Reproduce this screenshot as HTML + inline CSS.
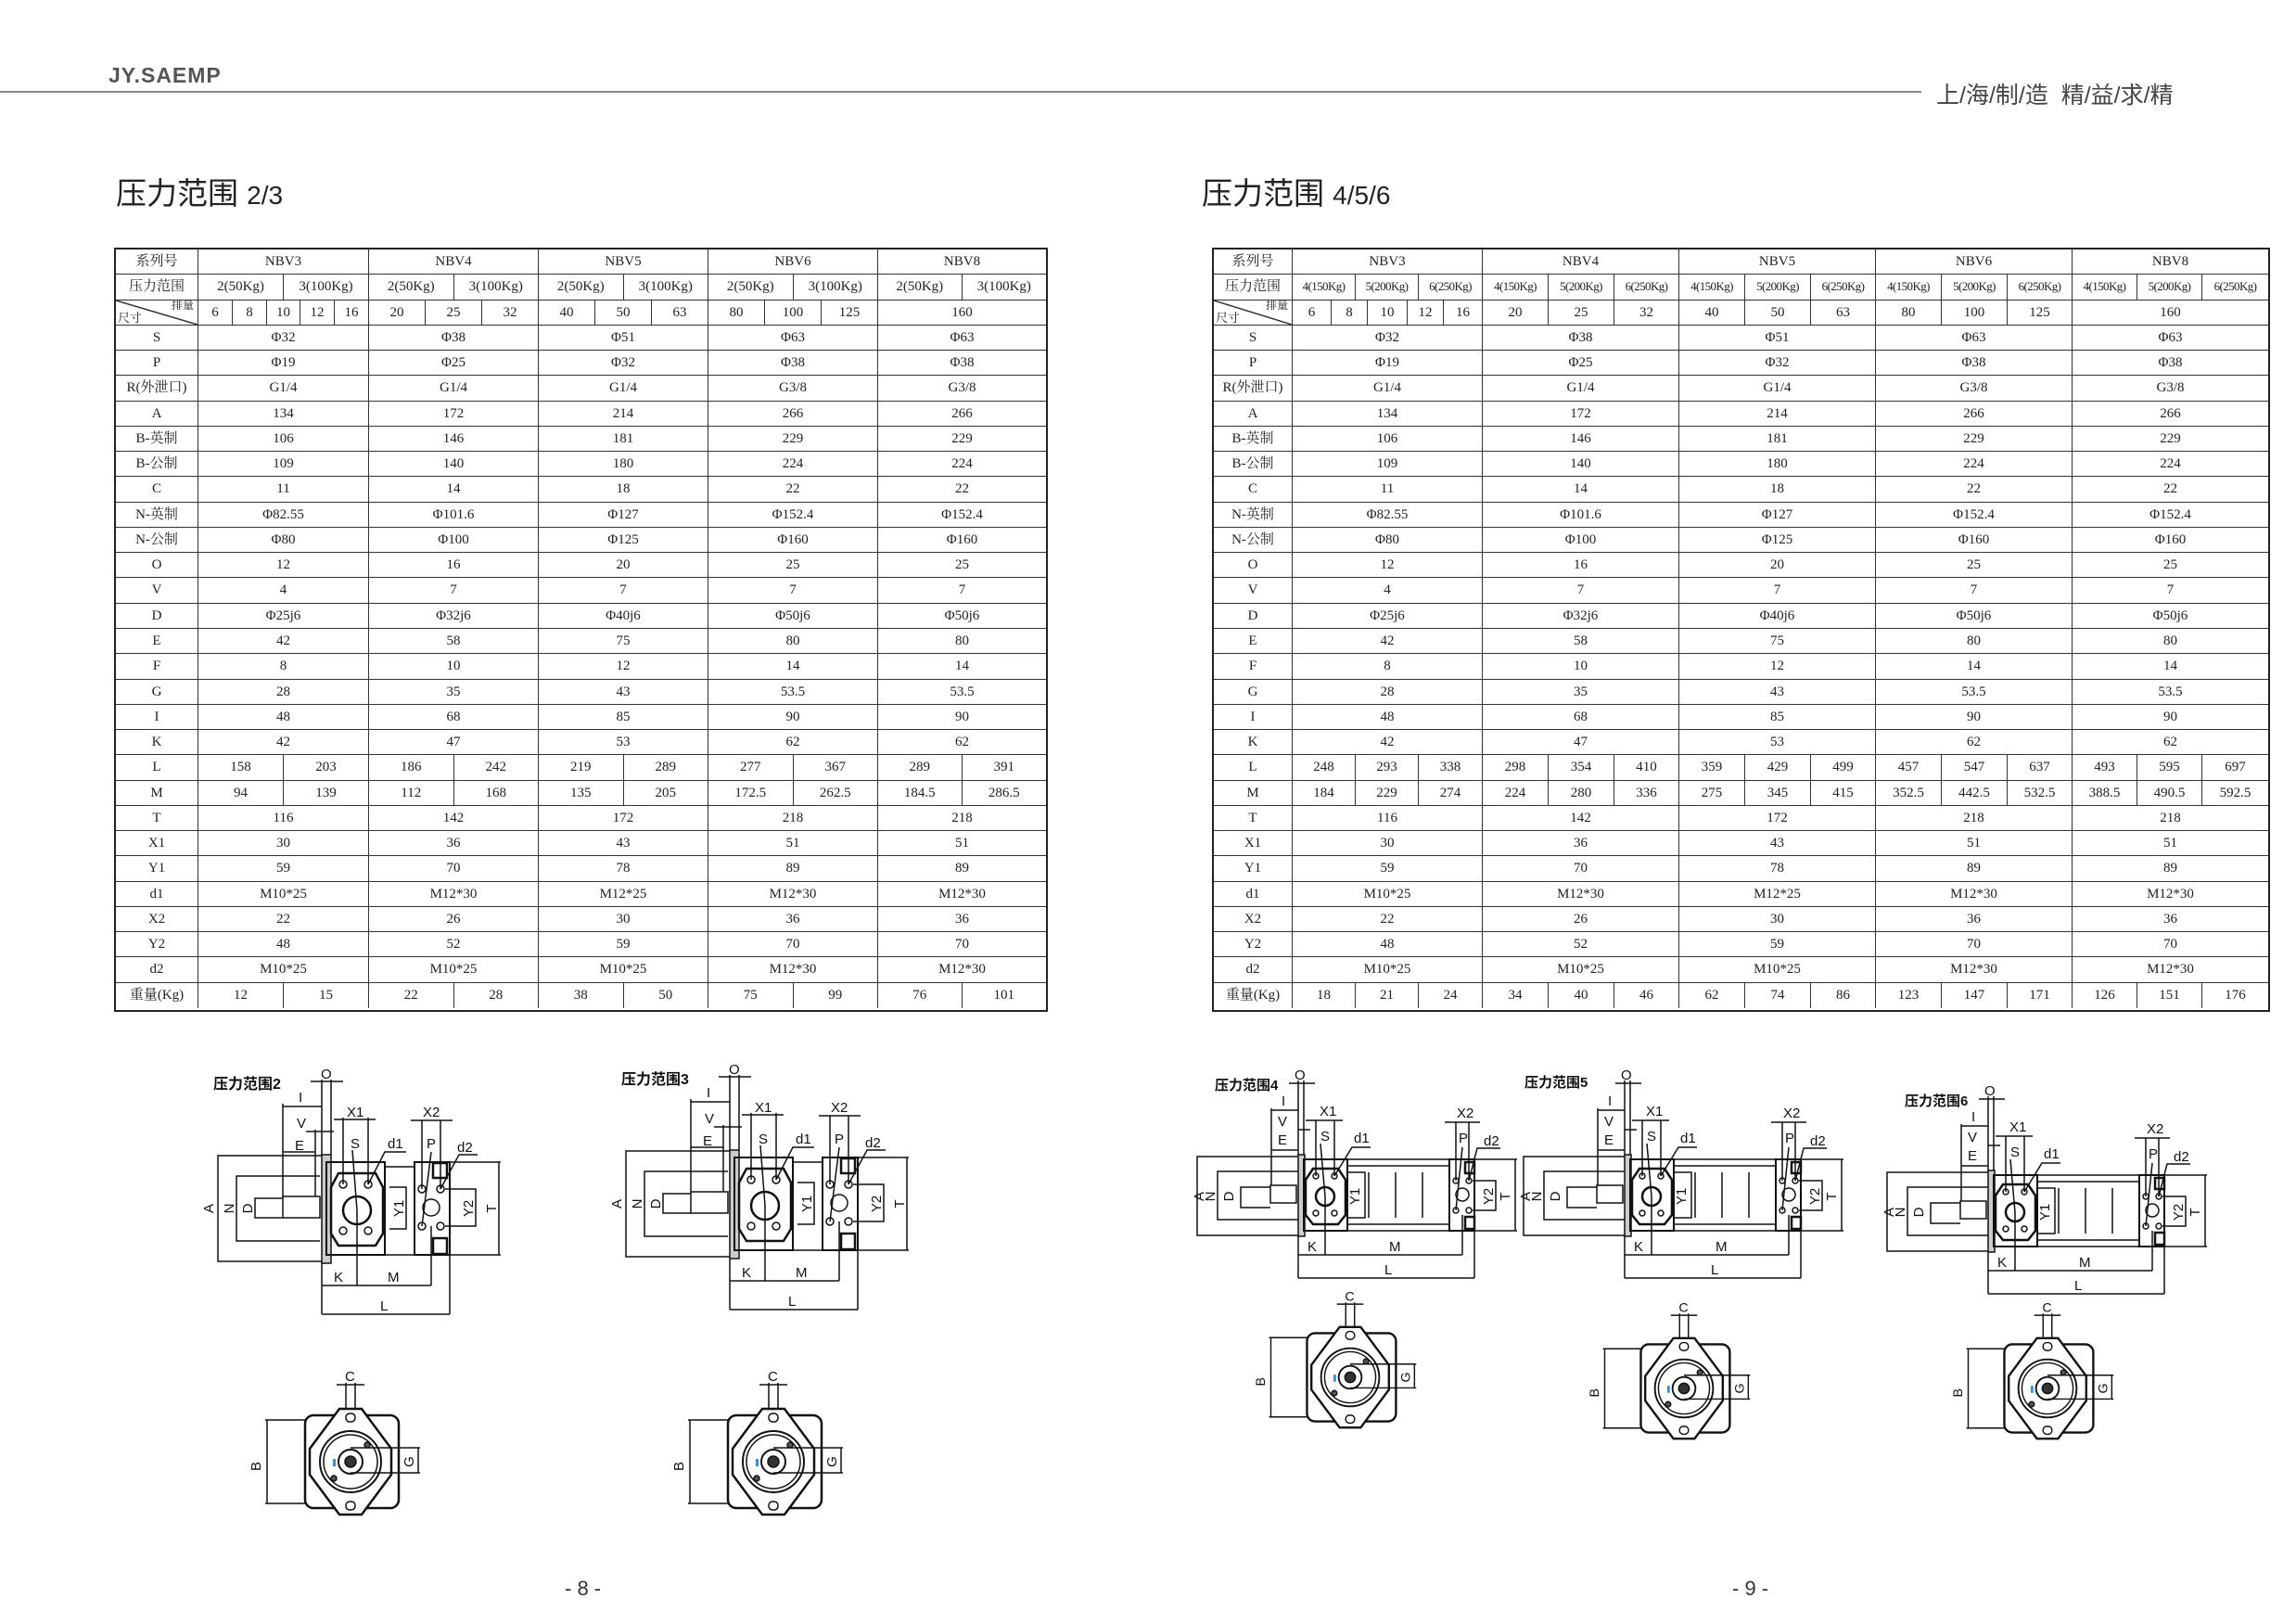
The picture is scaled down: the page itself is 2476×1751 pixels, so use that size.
<!DOCTYPE html>
<html><head><meta charset="utf-8"><style>
body{margin:0;background:#fff;}
#pg{position:relative;width:2476px;height:1751px;overflow:hidden;background:#fff;font-family:"Liberation Serif","Noto Serif CJK SC","Noto Sans CJK SC",serif;color:#222;}
.t{position:absolute;border:2px solid #222;box-sizing:border-box;}
.r{display:flex;height:27.27px;border-bottom:1.5px solid #333;box-sizing:border-box;}
.r:last-child{border-bottom:none;}
.c{border-right:1px solid #333;box-sizing:border-box;text-align:center;line-height:26px;font-size:15px;white-space:nowrap;overflow:hidden;}
.c:last-child{border-right:none;}
.sm .c{font-size:13px;letter-spacing:-0.6px;}
.dg{position:relative;background:linear-gradient(to top right,transparent 48%,#333 49%,#333 51%,transparent 52%) no-repeat;}
</style></head><body><div id="pg">

<div style="position:absolute;left:117px;top:68px;font:bold 23px 'Liberation Sans',sans-serif;color:#555;letter-spacing:1px">JY.SAEMP</div>
<div style="position:absolute;left:0;top:98px;width:2072px;height:2px;background:#888"></div>
<div style="position:absolute;left:2088px;top:83px;font:25px 'Liberation Sans','Noto Sans CJK SC',sans-serif;color:#444">上/海/制/造 &nbsp;精/益/求/精</div>
<div style="position:absolute;left:125px;top:182px;font:33px 'Liberation Sans','Noto Sans CJK SC',sans-serif;color:#222">压力范围 <span style="font-size:28px">2/3</span></div>
<div style="position:absolute;left:1296px;top:182px;font:33px 'Liberation Sans','Noto Sans CJK SC',sans-serif;color:#222">压力范围 <span style="font-size:28px">4/5/6</span></div>
<div style="position:absolute;left:609px;top:1700px;font:22px 'Liberation Sans',sans-serif;color:#333">- 8 -</div>
<div style="position:absolute;left:1868px;top:1700px;font:22px 'Liberation Sans',sans-serif;color:#333">- 9 -</div>

<!-- LEFT TABLE -->
<div class="t" style="left:123px;top:267px;width:1007px;height:824px">
<div class="r"><div class="c" style="width:89px">系列号</div><div class="c" style="width:184px">NBV3</div><div class="c" style="width:183px">NBV4</div><div class="c" style="width:183px">NBV5</div><div class="c" style="width:183px">NBV6</div><div class="c" style="width:181px">NBV8</div></div>
<div class="r"><div class="c" style="width:89px">压力范围</div><div class="c" style="width:92px">2(50Kg)</div><div class="c" style="width:92px">3(100Kg)</div><div class="c" style="width:91.5px">2(50Kg)</div><div class="c" style="width:91.5px">3(100Kg)</div><div class="c" style="width:91.5px">2(50Kg)</div><div class="c" style="width:91.5px">3(100Kg)</div><div class="c" style="width:91.5px">2(50Kg)</div><div class="c" style="width:91.5px">3(100Kg)</div><div class="c" style="width:90.5px">2(50Kg)</div><div class="c" style="width:90.5px">3(100Kg)</div></div>
<div class="r"><div class="c dg" style="width:89px"><span style="position:absolute;right:4px;top:-8px;font-size:12px">排量</span><span style="position:absolute;left:2px;top:6px;font-size:13px">尺寸</span></div><div class="c" style="width:37px">6</div><div class="c" style="width:37px">8</div><div class="c" style="width:36px">10</div><div class="c" style="width:37px">12</div><div class="c" style="width:37px">16</div><div class="c" style="width:61px">20</div><div class="c" style="width:61px">25</div><div class="c" style="width:61px">32</div><div class="c" style="width:61px">40</div><div class="c" style="width:61px">50</div><div class="c" style="width:61px">63</div><div class="c" style="width:61px">80</div><div class="c" style="width:61px">100</div><div class="c" style="width:61px">125</div><div class="c" style="width:181px">160</div></div>
<div class="r"><div class="c" style="width:89px">S</div><div class="c" style="width:184px">Φ32</div><div class="c" style="width:183px">Φ38</div><div class="c" style="width:183px">Φ51</div><div class="c" style="width:183px">Φ63</div><div class="c" style="width:181px">Φ63</div></div>
<div class="r"><div class="c" style="width:89px">P</div><div class="c" style="width:184px">Φ19</div><div class="c" style="width:183px">Φ25</div><div class="c" style="width:183px">Φ32</div><div class="c" style="width:183px">Φ38</div><div class="c" style="width:181px">Φ38</div></div>
<div class="r"><div class="c" style="width:89px">R(外泄口)</div><div class="c" style="width:184px">G1/4</div><div class="c" style="width:183px">G1/4</div><div class="c" style="width:183px">G1/4</div><div class="c" style="width:183px">G3/8</div><div class="c" style="width:181px">G3/8</div></div>
<div class="r"><div class="c" style="width:89px">A</div><div class="c" style="width:184px">134</div><div class="c" style="width:183px">172</div><div class="c" style="width:183px">214</div><div class="c" style="width:183px">266</div><div class="c" style="width:181px">266</div></div>
<div class="r"><div class="c" style="width:89px">B-英制</div><div class="c" style="width:184px">106</div><div class="c" style="width:183px">146</div><div class="c" style="width:183px">181</div><div class="c" style="width:183px">229</div><div class="c" style="width:181px">229</div></div>
<div class="r"><div class="c" style="width:89px">B-公制</div><div class="c" style="width:184px">109</div><div class="c" style="width:183px">140</div><div class="c" style="width:183px">180</div><div class="c" style="width:183px">224</div><div class="c" style="width:181px">224</div></div>
<div class="r"><div class="c" style="width:89px">C</div><div class="c" style="width:184px">11</div><div class="c" style="width:183px">14</div><div class="c" style="width:183px">18</div><div class="c" style="width:183px">22</div><div class="c" style="width:181px">22</div></div>
<div class="r"><div class="c" style="width:89px">N-英制</div><div class="c" style="width:184px">Φ82.55</div><div class="c" style="width:183px">Φ101.6</div><div class="c" style="width:183px">Φ127</div><div class="c" style="width:183px">Φ152.4</div><div class="c" style="width:181px">Φ152.4</div></div>
<div class="r"><div class="c" style="width:89px">N-公制</div><div class="c" style="width:184px">Φ80</div><div class="c" style="width:183px">Φ100</div><div class="c" style="width:183px">Φ125</div><div class="c" style="width:183px">Φ160</div><div class="c" style="width:181px">Φ160</div></div>
<div class="r"><div class="c" style="width:89px">O</div><div class="c" style="width:184px">12</div><div class="c" style="width:183px">16</div><div class="c" style="width:183px">20</div><div class="c" style="width:183px">25</div><div class="c" style="width:181px">25</div></div>
<div class="r"><div class="c" style="width:89px">V</div><div class="c" style="width:184px">4</div><div class="c" style="width:183px">7</div><div class="c" style="width:183px">7</div><div class="c" style="width:183px">7</div><div class="c" style="width:181px">7</div></div>
<div class="r"><div class="c" style="width:89px">D</div><div class="c" style="width:184px">Φ25j6</div><div class="c" style="width:183px">Φ32j6</div><div class="c" style="width:183px">Φ40j6</div><div class="c" style="width:183px">Φ50j6</div><div class="c" style="width:181px">Φ50j6</div></div>
<div class="r"><div class="c" style="width:89px">E</div><div class="c" style="width:184px">42</div><div class="c" style="width:183px">58</div><div class="c" style="width:183px">75</div><div class="c" style="width:183px">80</div><div class="c" style="width:181px">80</div></div>
<div class="r"><div class="c" style="width:89px">F</div><div class="c" style="width:184px">8</div><div class="c" style="width:183px">10</div><div class="c" style="width:183px">12</div><div class="c" style="width:183px">14</div><div class="c" style="width:181px">14</div></div>
<div class="r"><div class="c" style="width:89px">G</div><div class="c" style="width:184px">28</div><div class="c" style="width:183px">35</div><div class="c" style="width:183px">43</div><div class="c" style="width:183px">53.5</div><div class="c" style="width:181px">53.5</div></div>
<div class="r"><div class="c" style="width:89px">I</div><div class="c" style="width:184px">48</div><div class="c" style="width:183px">68</div><div class="c" style="width:183px">85</div><div class="c" style="width:183px">90</div><div class="c" style="width:181px">90</div></div>
<div class="r"><div class="c" style="width:89px">K</div><div class="c" style="width:184px">42</div><div class="c" style="width:183px">47</div><div class="c" style="width:183px">53</div><div class="c" style="width:183px">62</div><div class="c" style="width:181px">62</div></div>
<div class="r"><div class="c" style="width:89px">L</div><div class="c" style="width:92px">158</div><div class="c" style="width:92px">203</div><div class="c" style="width:91.5px">186</div><div class="c" style="width:91.5px">242</div><div class="c" style="width:91.5px">219</div><div class="c" style="width:91.5px">289</div><div class="c" style="width:91.5px">277</div><div class="c" style="width:91.5px">367</div><div class="c" style="width:90.5px">289</div><div class="c" style="width:90.5px">391</div></div>
<div class="r"><div class="c" style="width:89px">M</div><div class="c" style="width:92px">94</div><div class="c" style="width:92px">139</div><div class="c" style="width:91.5px">112</div><div class="c" style="width:91.5px">168</div><div class="c" style="width:91.5px">135</div><div class="c" style="width:91.5px">205</div><div class="c" style="width:91.5px">172.5</div><div class="c" style="width:91.5px">262.5</div><div class="c" style="width:90.5px">184.5</div><div class="c" style="width:90.5px">286.5</div></div>
<div class="r"><div class="c" style="width:89px">T</div><div class="c" style="width:184px">116</div><div class="c" style="width:183px">142</div><div class="c" style="width:183px">172</div><div class="c" style="width:183px">218</div><div class="c" style="width:181px">218</div></div>
<div class="r"><div class="c" style="width:89px">X1</div><div class="c" style="width:184px">30</div><div class="c" style="width:183px">36</div><div class="c" style="width:183px">43</div><div class="c" style="width:183px">51</div><div class="c" style="width:181px">51</div></div>
<div class="r"><div class="c" style="width:89px">Y1</div><div class="c" style="width:184px">59</div><div class="c" style="width:183px">70</div><div class="c" style="width:183px">78</div><div class="c" style="width:183px">89</div><div class="c" style="width:181px">89</div></div>
<div class="r"><div class="c" style="width:89px">d1</div><div class="c" style="width:184px">M10*25</div><div class="c" style="width:183px">M12*30</div><div class="c" style="width:183px">M12*25</div><div class="c" style="width:183px">M12*30</div><div class="c" style="width:181px">M12*30</div></div>
<div class="r"><div class="c" style="width:89px">X2</div><div class="c" style="width:184px">22</div><div class="c" style="width:183px">26</div><div class="c" style="width:183px">30</div><div class="c" style="width:183px">36</div><div class="c" style="width:181px">36</div></div>
<div class="r"><div class="c" style="width:89px">Y2</div><div class="c" style="width:184px">48</div><div class="c" style="width:183px">52</div><div class="c" style="width:183px">59</div><div class="c" style="width:183px">70</div><div class="c" style="width:181px">70</div></div>
<div class="r"><div class="c" style="width:89px">d2</div><div class="c" style="width:184px">M10*25</div><div class="c" style="width:183px">M10*25</div><div class="c" style="width:183px">M10*25</div><div class="c" style="width:183px">M12*30</div><div class="c" style="width:181px">M12*30</div></div>
<div class="r"><div class="c" style="width:89px">重量(Kg)</div><div class="c" style="width:92px">12</div><div class="c" style="width:92px">15</div><div class="c" style="width:91.5px">22</div><div class="c" style="width:91.5px">28</div><div class="c" style="width:91.5px">38</div><div class="c" style="width:91.5px">50</div><div class="c" style="width:91.5px">75</div><div class="c" style="width:91.5px">99</div><div class="c" style="width:90.5px">76</div><div class="c" style="width:90.5px">101</div></div>
</div>

<!-- RIGHT TABLE -->
<div class="t" style="left:1307px;top:267px;width:1141px;height:824px">
<div class="r"><div class="c" style="width:85px">系列号</div><div class="c" style="width:205px">NBV3</div><div class="c" style="width:212px">NBV4</div><div class="c" style="width:212px">NBV5</div><div class="c" style="width:212px">NBV6</div><div class="c" style="width:211px">NBV8</div></div>
<div class="r sm"><div class="c" style="width:85px;font-size:15px;letter-spacing:0">压力范围</div><div class="c" style="width:68px">4(150Kg)</div><div class="c" style="width:68px">5(200Kg)</div><div class="c" style="width:69px">6(250Kg)</div><div class="c" style="width:71px">4(150Kg)</div><div class="c" style="width:71px">5(200Kg)</div><div class="c" style="width:70px">6(250Kg)</div><div class="c" style="width:71px">4(150Kg)</div><div class="c" style="width:71px">5(200Kg)</div><div class="c" style="width:70px">6(250Kg)</div><div class="c" style="width:71px">4(150Kg)</div><div class="c" style="width:71px">5(200Kg)</div><div class="c" style="width:70px">6(250Kg)</div><div class="c" style="width:70px">4(150Kg)</div><div class="c" style="width:70px">5(200Kg)</div><div class="c" style="width:71px">6(250Kg)</div></div>
<div class="r"><div class="c dg" style="width:85px"><span style="position:absolute;right:4px;top:-8px;font-size:12px">排量</span><span style="position:absolute;left:2px;top:6px;font-size:13px">尺寸</span></div><div class="c" style="width:42px">6</div><div class="c" style="width:39px">8</div><div class="c" style="width:43px">10</div><div class="c" style="width:39px">12</div><div class="c" style="width:42px">16</div><div class="c" style="width:71px">20</div><div class="c" style="width:71px">25</div><div class="c" style="width:70px">32</div><div class="c" style="width:71px">40</div><div class="c" style="width:71px">50</div><div class="c" style="width:70px">63</div><div class="c" style="width:71px">80</div><div class="c" style="width:71px">100</div><div class="c" style="width:70px">125</div><div class="c" style="width:211px">160</div></div>
<div class="r"><div class="c" style="width:85px">S</div><div class="c" style="width:205px">Φ32</div><div class="c" style="width:212px">Φ38</div><div class="c" style="width:212px">Φ51</div><div class="c" style="width:212px">Φ63</div><div class="c" style="width:211px">Φ63</div></div>
<div class="r"><div class="c" style="width:85px">P</div><div class="c" style="width:205px">Φ19</div><div class="c" style="width:212px">Φ25</div><div class="c" style="width:212px">Φ32</div><div class="c" style="width:212px">Φ38</div><div class="c" style="width:211px">Φ38</div></div>
<div class="r"><div class="c" style="width:85px">R(外泄口)</div><div class="c" style="width:205px">G1/4</div><div class="c" style="width:212px">G1/4</div><div class="c" style="width:212px">G1/4</div><div class="c" style="width:212px">G3/8</div><div class="c" style="width:211px">G3/8</div></div>
<div class="r"><div class="c" style="width:85px">A</div><div class="c" style="width:205px">134</div><div class="c" style="width:212px">172</div><div class="c" style="width:212px">214</div><div class="c" style="width:212px">266</div><div class="c" style="width:211px">266</div></div>
<div class="r"><div class="c" style="width:85px">B-英制</div><div class="c" style="width:205px">106</div><div class="c" style="width:212px">146</div><div class="c" style="width:212px">181</div><div class="c" style="width:212px">229</div><div class="c" style="width:211px">229</div></div>
<div class="r"><div class="c" style="width:85px">B-公制</div><div class="c" style="width:205px">109</div><div class="c" style="width:212px">140</div><div class="c" style="width:212px">180</div><div class="c" style="width:212px">224</div><div class="c" style="width:211px">224</div></div>
<div class="r"><div class="c" style="width:85px">C</div><div class="c" style="width:205px">11</div><div class="c" style="width:212px">14</div><div class="c" style="width:212px">18</div><div class="c" style="width:212px">22</div><div class="c" style="width:211px">22</div></div>
<div class="r"><div class="c" style="width:85px">N-英制</div><div class="c" style="width:205px">Φ82.55</div><div class="c" style="width:212px">Φ101.6</div><div class="c" style="width:212px">Φ127</div><div class="c" style="width:212px">Φ152.4</div><div class="c" style="width:211px">Φ152.4</div></div>
<div class="r"><div class="c" style="width:85px">N-公制</div><div class="c" style="width:205px">Φ80</div><div class="c" style="width:212px">Φ100</div><div class="c" style="width:212px">Φ125</div><div class="c" style="width:212px">Φ160</div><div class="c" style="width:211px">Φ160</div></div>
<div class="r"><div class="c" style="width:85px">O</div><div class="c" style="width:205px">12</div><div class="c" style="width:212px">16</div><div class="c" style="width:212px">20</div><div class="c" style="width:212px">25</div><div class="c" style="width:211px">25</div></div>
<div class="r"><div class="c" style="width:85px">V</div><div class="c" style="width:205px">4</div><div class="c" style="width:212px">7</div><div class="c" style="width:212px">7</div><div class="c" style="width:212px">7</div><div class="c" style="width:211px">7</div></div>
<div class="r"><div class="c" style="width:85px">D</div><div class="c" style="width:205px">Φ25j6</div><div class="c" style="width:212px">Φ32j6</div><div class="c" style="width:212px">Φ40j6</div><div class="c" style="width:212px">Φ50j6</div><div class="c" style="width:211px">Φ50j6</div></div>
<div class="r"><div class="c" style="width:85px">E</div><div class="c" style="width:205px">42</div><div class="c" style="width:212px">58</div><div class="c" style="width:212px">75</div><div class="c" style="width:212px">80</div><div class="c" style="width:211px">80</div></div>
<div class="r"><div class="c" style="width:85px">F</div><div class="c" style="width:205px">8</div><div class="c" style="width:212px">10</div><div class="c" style="width:212px">12</div><div class="c" style="width:212px">14</div><div class="c" style="width:211px">14</div></div>
<div class="r"><div class="c" style="width:85px">G</div><div class="c" style="width:205px">28</div><div class="c" style="width:212px">35</div><div class="c" style="width:212px">43</div><div class="c" style="width:212px">53.5</div><div class="c" style="width:211px">53.5</div></div>
<div class="r"><div class="c" style="width:85px">I</div><div class="c" style="width:205px">48</div><div class="c" style="width:212px">68</div><div class="c" style="width:212px">85</div><div class="c" style="width:212px">90</div><div class="c" style="width:211px">90</div></div>
<div class="r"><div class="c" style="width:85px">K</div><div class="c" style="width:205px">42</div><div class="c" style="width:212px">47</div><div class="c" style="width:212px">53</div><div class="c" style="width:212px">62</div><div class="c" style="width:211px">62</div></div>
<div class="r"><div class="c" style="width:85px">L</div><div class="c" style="width:68px">248</div><div class="c" style="width:68px">293</div><div class="c" style="width:69px">338</div><div class="c" style="width:71px">298</div><div class="c" style="width:71px">354</div><div class="c" style="width:70px">410</div><div class="c" style="width:71px">359</div><div class="c" style="width:71px">429</div><div class="c" style="width:70px">499</div><div class="c" style="width:71px">457</div><div class="c" style="width:71px">547</div><div class="c" style="width:70px">637</div><div class="c" style="width:70px">493</div><div class="c" style="width:70px">595</div><div class="c" style="width:71px">697</div></div>
<div class="r"><div class="c" style="width:85px">M</div><div class="c" style="width:68px">184</div><div class="c" style="width:68px">229</div><div class="c" style="width:69px">274</div><div class="c" style="width:71px">224</div><div class="c" style="width:71px">280</div><div class="c" style="width:70px">336</div><div class="c" style="width:71px">275</div><div class="c" style="width:71px">345</div><div class="c" style="width:70px">415</div><div class="c" style="width:71px">352.5</div><div class="c" style="width:71px">442.5</div><div class="c" style="width:70px">532.5</div><div class="c" style="width:70px">388.5</div><div class="c" style="width:70px">490.5</div><div class="c" style="width:71px">592.5</div></div>
<div class="r"><div class="c" style="width:85px">T</div><div class="c" style="width:205px">116</div><div class="c" style="width:212px">142</div><div class="c" style="width:212px">172</div><div class="c" style="width:212px">218</div><div class="c" style="width:211px">218</div></div>
<div class="r"><div class="c" style="width:85px">X1</div><div class="c" style="width:205px">30</div><div class="c" style="width:212px">36</div><div class="c" style="width:212px">43</div><div class="c" style="width:212px">51</div><div class="c" style="width:211px">51</div></div>
<div class="r"><div class="c" style="width:85px">Y1</div><div class="c" style="width:205px">59</div><div class="c" style="width:212px">70</div><div class="c" style="width:212px">78</div><div class="c" style="width:212px">89</div><div class="c" style="width:211px">89</div></div>
<div class="r"><div class="c" style="width:85px">d1</div><div class="c" style="width:205px">M10*25</div><div class="c" style="width:212px">M12*30</div><div class="c" style="width:212px">M12*25</div><div class="c" style="width:212px">M12*30</div><div class="c" style="width:211px">M12*30</div></div>
<div class="r"><div class="c" style="width:85px">X2</div><div class="c" style="width:205px">22</div><div class="c" style="width:212px">26</div><div class="c" style="width:212px">30</div><div class="c" style="width:212px">36</div><div class="c" style="width:211px">36</div></div>
<div class="r"><div class="c" style="width:85px">Y2</div><div class="c" style="width:205px">48</div><div class="c" style="width:212px">52</div><div class="c" style="width:212px">59</div><div class="c" style="width:212px">70</div><div class="c" style="width:211px">70</div></div>
<div class="r"><div class="c" style="width:85px">d2</div><div class="c" style="width:205px">M10*25</div><div class="c" style="width:212px">M10*25</div><div class="c" style="width:212px">M10*25</div><div class="c" style="width:212px">M12*30</div><div class="c" style="width:211px">M12*30</div></div>
<div class="r"><div class="c" style="width:85px">重量(Kg)</div><div class="c" style="width:68px">18</div><div class="c" style="width:68px">21</div><div class="c" style="width:69px">24</div><div class="c" style="width:71px">34</div><div class="c" style="width:71px">40</div><div class="c" style="width:70px">46</div><div class="c" style="width:71px">62</div><div class="c" style="width:71px">74</div><div class="c" style="width:70px">86</div><div class="c" style="width:71px">123</div><div class="c" style="width:71px">147</div><div class="c" style="width:70px">171</div><div class="c" style="width:70px">126</div><div class="c" style="width:70px">151</div><div class="c" style="width:71px">176</div></div>
</div>

<svg width="2476" height="1751" style="position:absolute;left:0;top:0" xmlns="http://www.w3.org/2000/svg">
<defs>
<g id="sv" fill="none" stroke="#111" stroke-width="1.5">
<path d="M140,96H25V210H140M135,118H45V188H135M95,142H65V163H95"/>
<rect x="95" y="140" width="40" height="23"/>
<rect x="137" y="95" width="10" height="117" fill="#ccc"/>
<rect x="142" y="103" width="63" height="100" stroke-width="2"/>
<polygon points="155,115 195,115 203,130 203,180 195,193 155,193 147,180 147,130" stroke-width="2.5"/>
<circle cx="175" cy="155" r="15" stroke-width="2.5"/>
<circle cx="160" cy="127" r="4"/><circle cx="187" cy="127" r="4"/><circle cx="160" cy="177" r="4"/><circle cx="187" cy="177" r="4"/>
<rect x="205" y="108" width="32" height="95"/>
<rect x="237" y="103" width="38" height="100" stroke-width="2"/>
<rect x="257" y="104" width="15" height="16" stroke-width="2.5"/><rect x="257" y="185" width="15" height="17" stroke-width="2.5"/>
<circle cx="245" cy="132" r="4"/><circle cx="265" cy="132" r="4"/><circle cx="245" cy="172" r="4"/><circle cx="265" cy="172" r="4"/>
<circle cx="255" cy="152" r="9"/>
<path d="M275,103H330M275,203H330M328,103V203M210,130H228V175H210M270,132H303V172H270"/>
<path d="M137,95V14M147,95V14M125,16H160M95,140V40M95,43H137M130,140V68M120,70H150M95,92H130M160,127V55M187,127V55M150,57H195M245,132V58M265,132V58M233,58H278M175,155V236M255,172V236M137,212V267M275,203V267M137,236H255M137,267H275"/>
<path d="M175,155L170,90M187,127L205,92H228M245,172L255,92M265,132L285,95H305"/>
</g>
<g id="lv" fill="none" stroke="#111" stroke-width="1.5">
<path d="M115,97H3V182H115M112,113H25V165H112M82,130H50V152H82"/>
<rect x="82" y="128" width="28" height="19"/>
<rect x="112" y="95" width="7" height="88" fill="#ccc"/>
<rect x="118" y="100" width="47" height="77" stroke-width="2"/>
<polygon points="128,110 155,110 163,122 163,160 155,170 128,170 120,160 120,122" stroke-width="2.5"/>
<circle cx="141" cy="140" r="10" stroke-width="2.5"/>
<circle cx="131" cy="118" r="3"/><circle cx="151" cy="118" r="3"/><circle cx="131" cy="158" r="3"/><circle cx="151" cy="158" r="3"/>
<rect x="165" y="100" width="110" height="77"/>
<path d="M165,107H275M165,170H275M188,114V163M217,114V163M246,114V163M165,114H184V163H165"/>
<rect x="275" y="100" width="27" height="77" stroke-width="2"/>
<rect x="292" y="103" width="10" height="12" stroke-width="2.5"/><rect x="292" y="162" width="10" height="13" stroke-width="2.5"/>
<circle cx="282" cy="123" r="3"/><circle cx="296" cy="123" r="3"/><circle cx="282" cy="155" r="3"/><circle cx="296" cy="155" r="3"/>
<circle cx="289" cy="138" r="7"/>
<path d="M302,100H348M302,177H348M346,100V177M300,123H325V155H300"/>
<path d="M112,95V15M118,95V15M102,18H130M83,128V45M83,47H112M112,68H125M83,90H112M131,118V58M151,118V58M120,58H160M282,123V60M296,123V60M270,60H308M141,140V203M289,160V203M112,183V228M302,177V228M112,203H289M112,228H302"/>
<path d="M141,140L136,83M151,118L170,87H190M282,155L289,87M296,123L305,88H330"/>
</g>
<g id="fv" fill="none" stroke="#111" stroke-width="1.5">
<rect x="-49" y="-50" width="101" height="100" rx="9" stroke-width="2.5"/>
<path d="M-12,-57L12,-57L44,-14L44,14L12,57L-12,57L-44,14L-44,-14Z" fill="#fff" stroke-width="2.5"/>
<circle r="33" stroke-width="2"/><circle r="29"/><circle r="13" stroke-width="2"/><circle r="6" fill="#333"/>
<circle cx="18" cy="-18" r="3" fill="#555"/><circle cx="-18" cy="18" r="3" fill="#555"/>
<rect x="-5" y="-52" width="10" height="9" rx="4"/><rect x="-5" y="43" width="10" height="9" rx="4"/>
<rect x="-19" y="-3" width="3" height="8" fill="#3a8be0" stroke="none"/>
<path d="M-5,-57V-85M5,-57V-85M-15,-83H15M0,-15H75M0,12H75M73,-15V12M-49,-45H-92M-49,45H-92M-90,-45V45"/>
</g>
</defs>
<g font-family="Liberation Sans, Noto Sans CJK SC, sans-serif" font-size="15" fill="#111">
<g transform="translate(210,1150)"><use href="#sv"/>
<text x="20" y="24" font-size="16" font-weight="bold">压力范围2</text>
<text x="136" y="13">O</text><text x="112" y="38">I</text><text x="110" y="66">V</text><text x="108" y="90">E</text><text x="164" y="54">X1</text><text x="246" y="54">X2</text><text x="168" y="88">S</text><text x="208" y="88">d1</text><text x="250" y="88">P</text><text x="283" y="92">d2</text>
<text transform="translate(20,153) rotate(-90)" text-anchor="middle">A</text><text transform="translate(42,153) rotate(-90)" text-anchor="middle">N</text><text transform="translate(62,153) rotate(-90)" text-anchor="middle">D</text><text transform="translate(225,153) rotate(-90)" text-anchor="middle">Y1</text><text transform="translate(300,153) rotate(-90)" text-anchor="middle">Y2</text><text transform="translate(325,153) rotate(-90)" text-anchor="middle">T</text>
<text x="150" y="232">K</text><text x="208" y="232">M</text><text x="200" y="263">L</text></g>
<g transform="translate(650,1145)"><use href="#sv"/>
<text x="20" y="24" font-size="16" font-weight="bold">压力范围3</text>
<text x="136" y="13">O</text><text x="112" y="38">I</text><text x="110" y="66">V</text><text x="108" y="90">E</text><text x="164" y="54">X1</text><text x="246" y="54">X2</text><text x="168" y="88">S</text><text x="208" y="88">d1</text><text x="250" y="88">P</text><text x="283" y="92">d2</text>
<text transform="translate(20,153) rotate(-90)" text-anchor="middle">A</text><text transform="translate(42,153) rotate(-90)" text-anchor="middle">N</text><text transform="translate(62,153) rotate(-90)" text-anchor="middle">D</text><text transform="translate(225,153) rotate(-90)" text-anchor="middle">Y1</text><text transform="translate(300,153) rotate(-90)" text-anchor="middle">Y2</text><text transform="translate(325,153) rotate(-90)" text-anchor="middle">T</text>
<text x="150" y="232">K</text><text x="208" y="232">M</text><text x="200" y="263">L</text></g>
<g transform="translate(1288,1150)"><use href="#lv"/>
<text x="22" y="25" font-size="15" font-weight="bold">压力范围4</text>
<text x="108" y="14">O</text><text x="94" y="42">I</text><text x="90" y="64">V</text><text x="90" y="84">E</text><text x="135" y="53">X1</text><text x="283" y="55">X2</text><text x="136" y="80">S</text><text x="172" y="82">d1</text><text x="285" y="82">P</text><text x="312" y="85">d2</text>
<text transform="translate(10,140) rotate(-90)" text-anchor="middle">A</text><text transform="translate(22,140) rotate(-90)" text-anchor="middle">N</text><text transform="translate(42,140) rotate(-90)" text-anchor="middle">D</text><text transform="translate(178,140) rotate(-90)" text-anchor="middle">Y1</text><text transform="translate(322,140) rotate(-90)" text-anchor="middle">Y2</text><text transform="translate(340,140) rotate(-90)" text-anchor="middle">T</text>
<text x="122" y="199">K</text><text x="210" y="199">M</text><text x="205" y="224">L</text></g>
<g transform="translate(1640,1150)"><use href="#lv"/>
<text x="4" y="22" font-size="15" font-weight="bold">压力范围5</text>
<text x="108" y="14">O</text><text x="94" y="42">I</text><text x="90" y="64">V</text><text x="90" y="84">E</text><text x="135" y="53">X1</text><text x="283" y="55">X2</text><text x="136" y="80">S</text><text x="172" y="82">d1</text><text x="285" y="82">P</text><text x="312" y="85">d2</text>
<text transform="translate(10,140) rotate(-90)" text-anchor="middle">A</text><text transform="translate(22,140) rotate(-90)" text-anchor="middle">N</text><text transform="translate(42,140) rotate(-90)" text-anchor="middle">D</text><text transform="translate(178,140) rotate(-90)" text-anchor="middle">Y1</text><text transform="translate(322,140) rotate(-90)" text-anchor="middle">Y2</text><text transform="translate(340,140) rotate(-90)" text-anchor="middle">T</text>
<text x="122" y="199">K</text><text x="210" y="199">M</text><text x="205" y="224">L</text></g>
<g transform="translate(2032,1167)"><use href="#lv"/>
<text x="22" y="25" font-size="15" font-weight="bold">压力范围6</text>
<text x="108" y="14">O</text><text x="94" y="42">I</text><text x="90" y="64">V</text><text x="90" y="84">E</text><text x="135" y="53">X1</text><text x="283" y="55">X2</text><text x="136" y="80">S</text><text x="172" y="82">d1</text><text x="285" y="82">P</text><text x="312" y="85">d2</text>
<text transform="translate(10,140) rotate(-90)" text-anchor="middle">A</text><text transform="translate(22,140) rotate(-90)" text-anchor="middle">N</text><text transform="translate(42,140) rotate(-90)" text-anchor="middle">D</text><text transform="translate(178,140) rotate(-90)" text-anchor="middle">Y1</text><text transform="translate(322,140) rotate(-90)" text-anchor="middle">Y2</text><text transform="translate(340,140) rotate(-90)" text-anchor="middle">T</text>
<text x="122" y="199">K</text><text x="210" y="199">M</text><text x="205" y="224">L</text></g>
<g transform="translate(378,1576)"><use href="#fv"/><text x="-6" y="-87">C</text><text transform="translate(-97,5) rotate(-90)" text-anchor="middle">B</text><text transform="translate(68,0) rotate(-90)" text-anchor="middle">G</text></g>
<g transform="translate(834,1576)"><use href="#fv"/><text x="-6" y="-87">C</text><text transform="translate(-97,5) rotate(-90)" text-anchor="middle">B</text><text transform="translate(68,0) rotate(-90)" text-anchor="middle">G</text></g>
<g transform="translate(1456,1485) scale(0.95)"><use href="#fv"/><text x="-6" y="-87">C</text><text transform="translate(-97,5) rotate(-90)" text-anchor="middle">B</text><text transform="translate(68,0) rotate(-90)" text-anchor="middle">G</text></g>
<g transform="translate(1816,1497) scale(0.95)"><use href="#fv"/><text x="-6" y="-87">C</text><text transform="translate(-97,5) rotate(-90)" text-anchor="middle">B</text><text transform="translate(68,0) rotate(-90)" text-anchor="middle">G</text></g>
<g transform="translate(2208,1497) scale(0.95)"><use href="#fv"/><text x="-6" y="-87">C</text><text transform="translate(-97,5) rotate(-90)" text-anchor="middle">B</text><text transform="translate(68,0) rotate(-90)" text-anchor="middle">G</text></g>
</g>
</svg>
</div></body></html>
